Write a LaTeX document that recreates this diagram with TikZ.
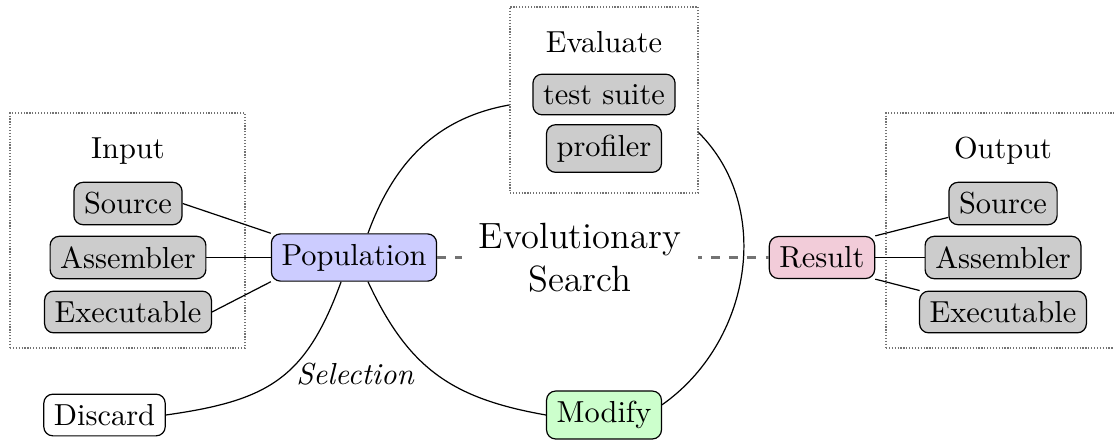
\documentclass[tikz,border=0pt]{standalone}
\usetikzlibrary{positioning}
\begin{document}
\begin{tikzpicture}[x=0.3289pt,y=-0.3289pt,
  box/.style={draw, rounded corners=3pt},
  gbox/.style={box, fill=black!20},
  group/.style={draw=black!55, dash pattern=on 0.4pt off 0.55pt, inner sep=0pt, minimum width=#1},
  group/.default=77.3pt,
  title/.style={anchor=base},
]
\clip (0,0) rectangle (1114,439);
% group frames
\node[group=77.3pt, minimum height=77.3pt] (inbox) at (127.5,230.5) {};
\node[group=77.3pt, minimum height=77.3pt] (outbox) at (1003.5,230.5) {};
\node[group=61.83pt, minimum height=61.18pt] (evalbox) at (604,100) {};
% titles
\node[title] (intitle) at (128,158) {Input};
\node[title] (outtitle) at (1003,158) {Output};
\node[title] (evaltitle) at (604,52) {Evaluate};
% input nodes
\node[gbox] (isrc) at (128,203.5) {Source};
\node[gbox] (iasm) at (128,257.5) {Assembler};
\node[gbox] (iexe) at (128,312) {Executable};
% output nodes
\node[gbox] (osrc) at (1003,203.5) {Source};
\node[gbox] (oasm) at (1003,257.5) {Assembler};
\node[gbox] (oexe) at (1003,312) {Executable};
% evaluate nodes
\node[gbox] (tests) at (604,94.5) {test suite};
\node[gbox] (prof) at (604,148.5) {profiler};
% main nodes
\node[box, fill=blue!20] (pop) at (354,257.5) {Population};
\node[box, fill=purple!20] (res) at (822,257.5) {Result};
\node[box, fill=green!20] (mod) at (604,415) {Modify};
\node[box] (disc) at (104.5,415) {Discard};
% dashed link with centre label on top
\draw[dashed, black!55, line width=0.7pt] (pop) -- (res);
\node[fill=white, font=\large, align=center, inner xsep=5.5pt] (evo) at (580,258) {Evolutionary\\Search};
% connectors
\draw (isrc.east) -- (pop.north west);
\draw (iasm) -- (pop);
\draw (iexe.east) -- (pop.south west);
\draw (res.north east) -- (osrc);
\draw (res) -- (oasm);
\draw (res.south east) -- (oexe);
% loop
\draw (pop.60) to[out=70, in=190] (evalbox.183);
\draw (evalbox.-19) to[out=-45, in=35] (mod.10);
\draw (pop.-60) to[out=-65, in=170, looseness=1.1] (mod.west);
\draw (pop.-118) to[out=-110, in=8, looseness=1.2] (disc.east);
\node[font=\itshape] (sel) at (355,374) {Selection};
\end{tikzpicture}
\end{document}
